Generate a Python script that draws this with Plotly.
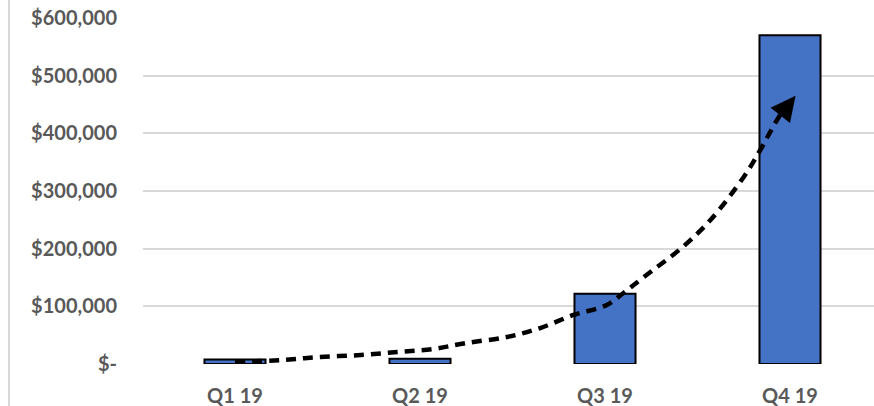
import plotly.graph_objects as go

# Quarterly revenue
quarters = ["Q1 19", "Q2 19", "Q3 19", "Q4 19"]
revenue = [8000, 9000, 122000, 570000]

# Hand-drawn growth trend (category position, value)
trend_x = [0.0, 0.25, 0.46, 0.68, 0.88, 1.07, 1.25, 1.47, 1.65, 1.83,
           2.01, 2.10, 2.21, 2.42, 2.57, 2.75, 2.83, 2.89, 2.94]
trend_y = [3500, 6900, 12100, 15600, 20800, 26000, 36400, 46800, 62400, 85000,
           102300, 123100, 150900, 202900, 249700, 324300, 365900, 400600, 428300]
arrow_tip = (3.03, 465000)

# Y-axis ticks
tick_vals = [0, 100000, 200000, 300000, 400000, 500000, 600000]
tick_text = ["$-", "$100,000", "$200,000", "$300,000", "$400,000", "$500,000", "$600,000"]

W, H = 874, 406
ML, MR, MT, MB = 143, 0, 18, 42
plot_w = W - ML - MR
plot_h = H - MT - MB
step = 185  # px per category
x0 = -(235 - ML) / step
x1 = x0 + plot_w / step

label_font = dict(family="Lato, 'Open Sans', sans-serif", size=20, color="#595959", weight="bold")

fig = go.Figure()
fig.add_trace(go.Bar(
    x=list(range(len(quarters))), y=revenue, width=0.33,
    marker=dict(color="#4472C4", line=dict(color="#000000", width=2)),
    hoverinfo="skip",
))
fig.add_trace(go.Scatter(
    x=trend_x + [arrow_tip[0] - 0.035], y=trend_y + [arrow_tip[1] - 12000],
    mode="lines", line=dict(color="#000000", width=4.5, dash="10px,7px", shape="spline"),
    hoverinfo="skip",
))
fig.add_annotation(
    x=arrow_tip[0], y=arrow_tip[1], ax=trend_x[-1], ay=trend_y[-1],
    xref="x", yref="y", axref="x", ayref="y", text="", showarrow=True,
    arrowhead=2, arrowsize=1.3, arrowwidth=3.8, arrowcolor="#000000",
)

# Chart frame edge on the left
fig.add_shape(type="line", xref="paper", yref="paper",
              x0=(9 - ML) / plot_w, x1=(9 - ML) / plot_w,
              y0=-MB / plot_h, y1=1 + MT / plot_h,
              line=dict(color="#d9d9d9", width=2))

fig.update_layout(
    width=W, height=H, margin=dict(l=ML, r=MR, t=MT, b=MB, autoexpand=False),
    paper_bgcolor="white", plot_bgcolor="white", showlegend=False,
    font=dict(family="Lato, 'Open Sans', sans-serif", size=20, color="#595959"),
    xaxis=dict(range=[x0, x1], tickmode="array", tickvals=list(range(len(quarters))),
               ticktext=quarters, showgrid=False, zeroline=False, showline=False,
               ticks="", ticklabelstandoff=18, tickfont=label_font, automargin=False),
    yaxis=dict(range=[0, 600000], tickmode="array", tickvals=tick_vals, ticktext=tick_text,
               showgrid=True, gridcolor="#d9d9d9", gridwidth=2, zeroline=False,
               showline=False, ticks="", ticklabelstandoff=25, tickfont=label_font,
               automargin=False),
)

fig.write_html("out.html")
